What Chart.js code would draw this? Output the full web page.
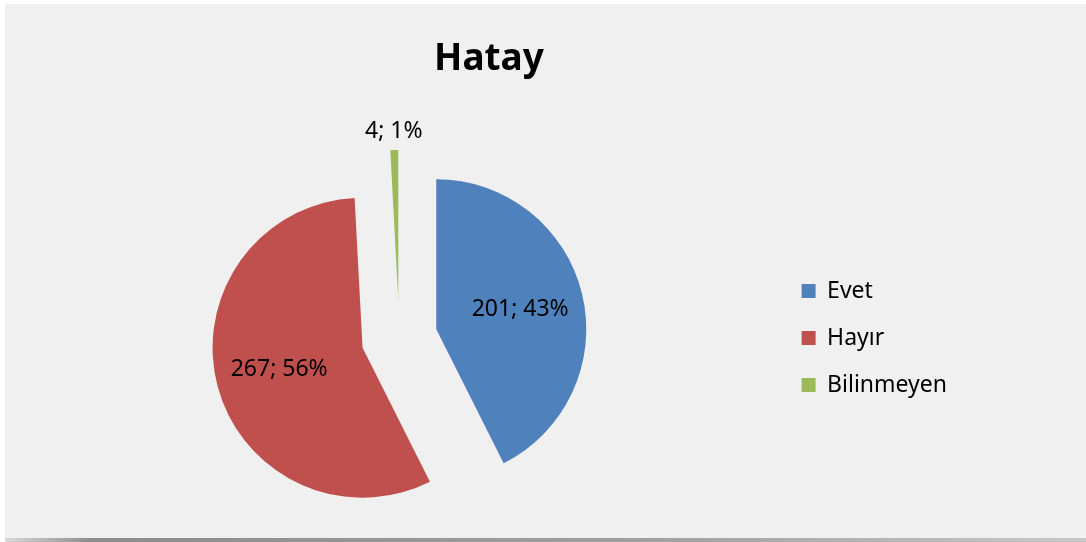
<!DOCTYPE html>
<html>
<head>
<meta charset="utf-8">
<script src="https://cdn.jsdelivr.net/npm/chart.js@4/dist/chart.umd.min.js"></script>
<style>
    html, body { margin: 0; padding: 0; background: #fff; }
    body { width: 1086px; height: 542px; position: relative; overflow: hidden; }
    .panel {
        position: absolute; left: 5px; top: 4px; width: 1081px; height: 534px;
        background: #f0f0f0;
    }
    .shadow {
        position: absolute; left: 5px; top: 538px; width: 1081px; height: 4px;
        background: linear-gradient(to right, #d8d8d8, #8c8c8c 8%, #a0a0a0 60%, #c8c8c8);
    }
    #chart { position: absolute; left: 0; top: 0; }
</style>
</head>
<body>
<div class="panel"><canvas id="chart" width="1081" height="534"></canvas></div>
<div class="shadow"></div>
<script>
// Hatay pie
const labels = ['Evet', 'Hayır', 'Bilinmeyen'];
const counts = [201, 267, 4];
const percentLabels = ['43%', '56%', '1%'];
const colors = ['#4f81bd', '#c0504d', '#9bbb59'];

const EXPLODE = 38; // px each slice is pulled out from the centre

// Chart.js "offset" also grows the radius, so pull slices out by translating instead
const explode = {
    id: 'explode',
    afterUpdate(chart) {
        chart.getDatasetMeta(0).data.forEach(arc => {
            if (arc._exploded) return;
            arc._exploded = true;
            const baseDraw = arc.draw;
            arc.draw = function (ctx) {
                const mid = (this.startAngle + this.endAngle) / 2;
                ctx.save();
                ctx.translate(Math.cos(mid) * EXPLODE, Math.sin(mid) * EXPLODE);
                baseDraw.call(this, ctx);
                ctx.restore();
            };
        });
    }
};

// draws "value; pct" on each slice, small slices get it outside
const sliceLabels = {
    id: 'sliceLabels',
    afterDatasetsDraw(chart) {
        const ctx = chart.ctx;
        const meta = chart.getDatasetMeta(0);
        const total = counts.reduce((a, b) => a + b, 0);
        ctx.save();
        ctx.font = '23px "Noto Sans"';
        ctx.fillStyle = '#000';
        ctx.textAlign = 'center';
        ctx.textBaseline = 'middle';
        meta.data.forEach((arc, i) => {
            const p = arc.getProps(['x', 'y', 'startAngle', 'endAngle', 'outerRadius'], true);
            const mid = (p.startAngle + p.endAngle) / 2;
            const small = counts[i] / total < 0.05;
            const dist = EXPLODE + (small ? p.outerRadius + 19 : p.outerRadius * 0.575);
            const x = p.x + Math.cos(mid) * dist;
            const y = p.y + Math.sin(mid) * dist;
            ctx.fillText(counts[i] + '; ' + percentLabels[i], x, y);
        });
        ctx.restore();
    }
};

Chart.defaults.color = '#000';
Chart.defaults.font.family = '"Noto Sans", sans-serif';

new Chart(document.getElementById('chart'), {
    type: 'pie',
    data: {
        labels: labels,
        datasets: [{
            data: counts,
            backgroundColor: colors,
            borderWidth: 0,
            radius: 150,
            hoverOffset: 0,
            clip: false
        }]
    },
    options: {
        responsive: false,
        animation: false,
        events: [],
        layout: {
            padding: { left: 16, right: 129, top: 0, bottom: 0 }
        },
        plugins: {
            title: {
                display: true,
                text: 'Hatay',
                font: { size: 37, weight: 'bold' },
                padding: { top: 33, bottom: 56.6 }
            },
            legend: {
                position: 'right',
                fullSize: false,
                labels: {
                    boxWidth: 14,
                    boxHeight: 14,
                    padding: 24,
                    font: { size: 23 }
                }
            },
            tooltip: { enabled: false }
        }
    },
    plugins: [explode, sliceLabels]
});
</script>
</body>
</html>
